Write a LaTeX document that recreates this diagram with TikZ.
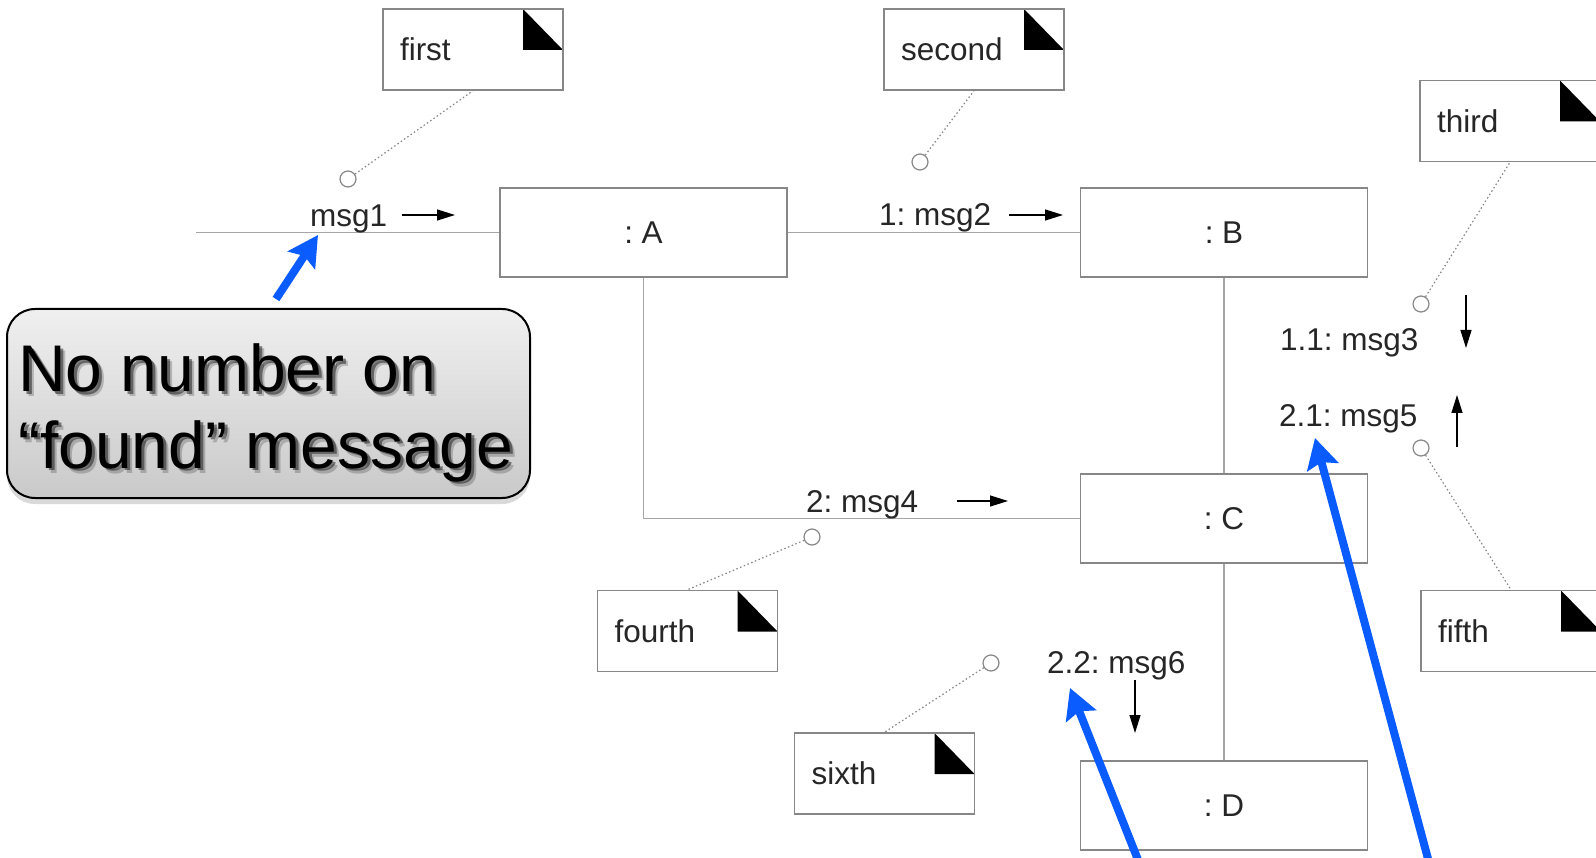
\documentclass[tikz,border=0pt]{standalone}
\usepackage{fontspec}
\setmainfont{Liberation Sans}
\frenchspacing
\usetikzlibrary{
  arrows.meta,
  positioning,
  shadows
}
\definecolor{boxgray}{RGB}{135,135,135}
\definecolor{linkgray}{RGB}{165,165,165}
\definecolor{pointerblue}{RGB}{10,92,255}
\tikzset{
  % For the objects of the collaboration.
  object/.style={
    draw=boxgray,
    line width=1.5pt,
    fill=white,
    minimum width=287pt,
    minimum height=89pt,
    font=\fontsize{31.5}{38}\selectfont,
    text=black!85},
%
  % For notes; the corner is a black triangle.
  note/.style={
    draw=boxgray,
    line width=1.5pt,
    fill=white,
    minimum width=180pt,
    minimum height=81pt,
    inner xsep=17pt,
    text width=146pt,
    align=left,
    font=\fontsize{31.5}{38}\selectfont,
    text=black!85,
    path picture={
      \fill[black] ([xshift=-40pt]path picture bounding box.north east)
        -- ++(0pt,-41pt) -- ++(40pt,0pt) -- cycle;}},
%
  % For links between objects.
  link/.style={
    draw=linkgray,
    line width=1.5pt},
%
  % For message labels.
  message/.style={
    font=\fontsize{31.5}{38}\selectfont,
    text=black!85,
    inner sep=0pt,
    anchor=base west},
%
  % For the small arrows next to the messages.
  flow/.style={
    -{Triangle[length=18pt,width=11pt]},
    line width=1.3pt},
%
  % For the places where notes are attached.
  attach dot/.style={
    circle,
    draw=boxgray,
    line width=1.2pt,
    fill=white,
    minimum size=16pt,
    inner sep=0pt},
%
  % For the lines from notes to messages.
  note line/.style={
    draw=boxgray,
    line width=1.2pt,
    dash pattern=on 1.5pt off 2.5pt},
%
  % For the callout.
  callout/.style={
    draw=black,
    line width=2pt,
    rounded corners=28pt,
    top color=gray!12,
    bottom color=gray!42,
    minimum width=523pt,
    minimum height=189pt,
    drop shadow={shadow xshift=0pt, shadow yshift=-6pt, opacity=0.3}},
  callout text/.style={
    font=\fontsize{66}{76}\selectfont,
    inner sep=0pt,
    anchor=base west},
%
  % For the blue pointers.
  pointer/.style={
    draw=pointerblue,
    line width=8pt,
    -{Stealth[length=30pt,width=32pt,inset=5pt]}},
}

\begin{document}
\begin{tikzpicture}[x=1pt,y=-1pt]
  \useasboundingbox (0,0) rectangle (1596,858);

  \node[object] (A) at (643.5,232.5) {: A};
  \node[object] (B) at (1224,232.5) {: B};
  \node[object] (C) at (1224,518.5) {: C};
  \node[object] (D) at (1224,805.5) {: D};
  \coordinate (found) at (196,232.5);

  \draw[link] (found) -- (A);
  \draw[link] (A) -- (B);
  \draw[link] (A.south) |- (C.west);
  \draw[link] (B) -- (C);
  \draw[link] (C) -- (D);

  % Messages.
  \node[message] (msg1) at (310,227) {msg1};
  \node[message] (msg2) at (879,226) {1: msg2};
  \node[message] (msg3) at (1280,351) {1.1: msg3};
  \node[message] (msg4) at (806,512) {2: msg4};
  \node[message] (msg5) at (1279,427) {2.1: msg5};
  \node[message] (msg6) at (1047,673) {2.2: msg6};

  \coordinate (msg1 from) at (402,215);
  \coordinate (msg1 to) at (455,215);
  \coordinate (msg2 from) at (1009,215);
  \coordinate (msg2 to) at (1063,215);
  \coordinate (msg3 from) at (1466,295);
  \coordinate (msg3 to) at (1466,348);
  \coordinate (msg4 from) at (957,501);
  \coordinate (msg4 to) at (1008,501);
  \coordinate (msg5 from) at (1457,447);
  \coordinate (msg5 to) at (1457,395);
  \coordinate (msg6 from) at (1135,680);
  \coordinate (msg6 to) at (1135,733);

  \foreach \m in {1,...,6}
    \draw[flow] (msg\m\space from) -- (msg\m\space to);

  % Notes.
  \node[note] (first) at (473,49.5) {first};
  \node[note] (second) at (974,49.5) {second};
  \node[note] (third) at (1510,121) {third};
  \node[note] (fourth) at (687.5,631) {fourth};
  \node[note] (fifth) at (1511,631) {fifth};
  \node[note] (sixth) at (884.5,773.5) {sixth};

  \node[attach dot] (dot1) at (348,179) {};
  \node[attach dot] (dot2) at (920,162) {};
  \node[attach dot] (dot3) at (1421,304) {};
  \node[attach dot] (dot4) at (812,537) {};
  \node[attach dot] (dot5) at (1421,448) {};
  \node[attach dot] (dot6) at (991,663) {};

  \draw[note line] (dot1) -- (first.south);
  \draw[note line] (dot2) -- (second.south);
  \draw[note line] (dot3) -- (third.south);
  \draw[note line] (dot4) -- (fourth.north);
  \draw[note line] (dot5) -- (fifth.north);
  \draw[note line] (dot6) -- (sixth.north);

  % Callout with shadowed text.
  \node[callout] (callout) at (268.5,403.5) {};
  \foreach \s/\o in {5/0.2,3/0.45,0/1} {
    \node[callout text, opacity=\o] (line1 \s) at (18+\s,392+\s) {No number on};
    \node[callout text, opacity=\o] (line2 \s) at (18+\s,468+\s) {“found” message};
  }

  % Pointers.
  \coordinate (p1 start) at (276,299);
  \coordinate (p1 tip) at (318,235);
  \coordinate (p2 start) at (1142,870);
  \coordinate (p2 tip) at (1070,688);
  \coordinate (p3 start) at (1431,870);
  \coordinate (p3 tip) at (1315,438);

  \draw[pointer] (p1 start) -- (p1 tip);
  \draw[pointer] (p2 start) -- (p2 tip);
  \draw[pointer] (p3 start) -- (p3 tip);
\end{tikzpicture}
\end{document}
